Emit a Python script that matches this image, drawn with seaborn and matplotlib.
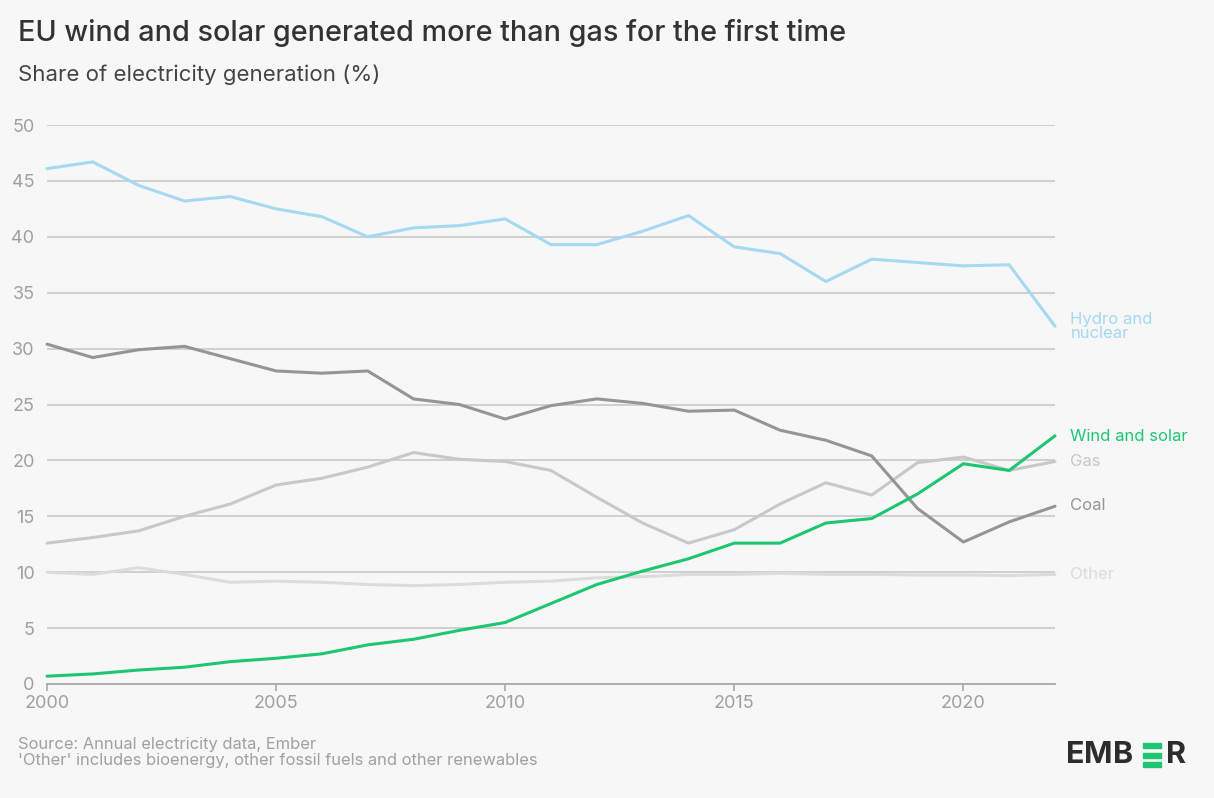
import numpy as np
import pandas as pd
import matplotlib
matplotlib.use("Agg")
import matplotlib.pyplot as plt
import seaborn as sns
from matplotlib.patches import Rectangle

years = list(range(2000, 2023))
hydro_nuclear = [46.1, 46.7, 44.6, 43.2, 43.6, 42.5, 41.8, 40.0, 40.8, 41.0, 41.6, 39.3,
                 39.3, 40.5, 41.9, 39.1, 38.5, 36.0, 38.0, 37.7, 37.4, 37.5, 32.0]
coal = [30.4, 29.2, 29.9, 30.2, 29.1, 28.0, 27.8, 28.0, 25.5, 25.0, 23.7, 24.9,
        25.5, 25.1, 24.4, 24.5, 22.7, 21.8, 20.4, 15.7, 12.7, 14.5, 15.9]
gas = [12.6, 13.1, 13.7, 15.0, 16.1, 17.8, 18.4, 19.4, 20.7, 20.1, 19.9, 19.1,
       16.7, 14.4, 12.6, 13.8, 16.1, 18.0, 16.9, 19.8, 20.3, 19.1, 19.9]
wind_solar = [0.7, 0.9, 1.25, 1.5, 2.0, 2.3, 2.7, 3.5, 4.0, 4.8, 5.5, 7.2,
              8.9, 10.1, 11.2, 12.6, 12.6, 14.4, 14.8, 17.0, 19.7, 19.1, 22.2]
other = [10.0, 9.8, 10.4, 9.8, 9.1, 9.2, 9.1, 8.9, 8.8, 8.9, 9.1, 9.2,
         9.5, 9.6, 9.8, 9.8, 9.9, 9.8, 9.8, 9.75, 9.75, 9.7, 9.8]

series_names = ["Other", "Gas", "Coal", "Hydro and\nnuclear", "Wind and solar"]
series_values = [other, gas, coal, hydro_nuclear, wind_solar]
colors = {"Other": "#dcdcdc", "Gas": "#c8c8c8", "Coal": "#959595",
          "Hydro and\nnuclear": "#a7d8f2", "Wind and solar": "#1ec672"}
label_y = {"Other": 9.8, "Gas": 19.9, "Coal": 16.0,
           "Hydro and\nnuclear": 32.0, "Wind and solar": 22.1}

df = pd.concat([pd.DataFrame({"year": years, "value": v, "series": n})
                for n, v in zip(series_names, series_values)], ignore_index=True)

sns.set_theme(style="white")
plt.rcParams["font.family"] = ["Inter", "DejaVu Sans"]

bg = "#f7f7f7"
fig = plt.figure(figsize=(12.14, 7.98), dpi=100, facecolor=bg)
ax = fig.add_axes([47/1214, 1-684/798, (1055-47)/1214, (684-125)/798])
ax.set_facecolor(bg)

sns.lineplot(data=df, x="year", y="value", hue="series", palette=colors,
             hue_order=series_names, linewidth=2.2, ax=ax, legend=False)
for line in ax.get_lines():
    line.set_clip_on(False)

ax.set_xlim(2000, 2022)
ax.set_ylim(0, 50)
ax.set_yticks(range(0, 51, 5))
ax.set_xticks([2000, 2005, 2010, 2015, 2020])
ax.yaxis.grid(True, color="#cccccc", linewidth=1.3)
ax.set_axisbelow(True)
for s in ["top", "right", "left"]:
    ax.spines[s].set_visible(False)
ax.spines["bottom"].set_color("#aaaaaa")
ax.spines["bottom"].set_linewidth(1.3)
ax.tick_params(axis="y", length=0, pad=9, labelsize=13, labelcolor="#a0a0a0")
ax.tick_params(axis="x", length=5, width=1.2, color="#aaaaaa", pad=3,
               labelsize=13, labelcolor="#a0a0a0", bottom=True)
ax.set_xlabel("")
ax.set_ylabel("")

for n in series_names:
    ax.annotate(n, xy=(2022, label_y[n]), xytext=(11, 0), textcoords="offset points",
                va="center", ha="left", fontsize=12, color=colors[n],
                linespacing=0.95, annotation_clip=False)

fig.text(18/1214, 1-33/798, "EU wind and solar generated more than gas for the first time",
         fontsize=20.7, color="#333333", va="center", ha="left", fontweight="medium")
fig.text(18/1214, 1-75/798, "Share of electricity generation (%)",
         fontsize=16, color="#444444", va="center", ha="left")
fig.text(18/1214, 1-744/798, "Source: Annual electricity data, Ember",
         fontsize=11.9, color="#a0a0a0", va="center", ha="left")
fig.text(18/1214, 1-761/798, "'Other' includes bioenergy, other fossil fuels and other renewables",
         fontsize=11.9, color="#a0a0a0", va="center", ha="left")

# EMBER logo
for letter, cx in [("E", 1075), ("M", 1098.5), ("B", 1123.5), ("R", 1176)]:
    fig.text(cx/1214, 1-755/798, letter, fontsize=22, fontweight="bold", color="#2d2d2d",
             va="center", ha="center")
for i in range(3):
    y0 = 1 - (748 + i * 9.5) / 798
    fig.patches.append(Rectangle((1143/1214, y0), 18/1214, 5/798, transform=fig.transFigure,
                                 color="#1ec672"))

fig.savefig("out.png", dpi=100, facecolor=bg)
